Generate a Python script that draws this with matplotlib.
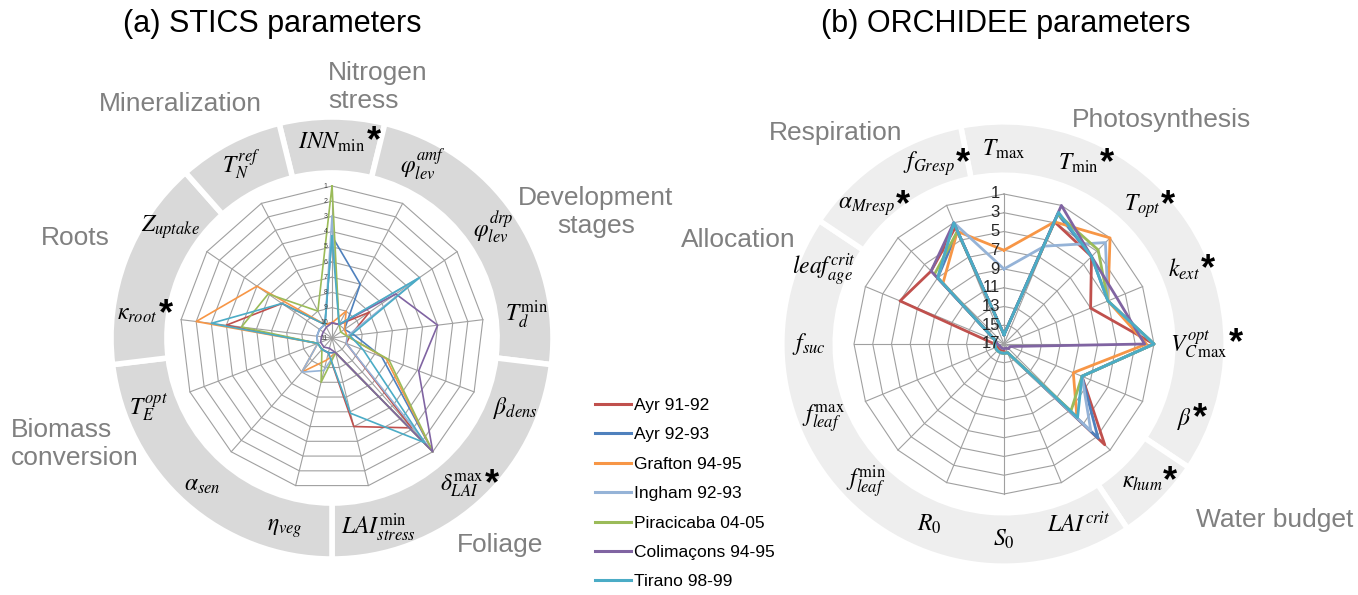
import numpy as np
import matplotlib
matplotlib.use('Agg')
import matplotlib.pyplot as plt
from matplotlib.lines import Line2D

plt.rcParams['font.family'] = ['Liberation Sans', 'DejaVu Sans']
plt.rcParams['mathtext.fontset'] = 'stix'

# sites and colours
sites = ['Ayr 91-92', 'Ayr 92-93', 'Grafton 94-95', 'Ingham 92-93',
         'Piracicaba 04-05', 'Colimaçons 94-95', 'Tirano 98-99']
colors = ['#C0504D', '#4F81BD', '#F79646', '#95B3D7', '#9BBB59', '#8064A2', '#4BACC6']

# ---- (a) STICS ----
stics_params = [r'$INN_{\mathrm{min}}$', r'$\varphi_{lev}^{amf}$', r'$\varphi_{lev}^{drp}$',
                r'$T_d^{\mathrm{min}}$', r'$\beta_{dens}$', r'$\delta_{LAI}^{\mathrm{max}}$',
                r'$LAI_{stress}^{\mathrm{min}}$', r'$\eta_{veg}$', r'$\alpha_{sen}$',
                r'$T_E^{opt}$', r'$\kappa_{root}$', r'$Z_{uptake}$', r'$T_N^{ref}$']
stics_star = [1, 0, 0, 0, 0, 1, 0, 0, 0, 0, 1, 0, 0]
stics_groups = ['Nitrogen\nstress', 'Development\nstages', 'Foliage',
                'Biomass\nconversion', 'Roots', 'Mineralization']
stics_group_size = [1, 3, 3, 3, 2, 1]
stics_ticks = list(range(1, 12))

# rank of each parameter per site (1 = most sensitive, outer ring)
stics_ayr91 = [10, 10, 8, 9.8, 10, 3.1, 5, 10, 10, 10, 4, 7, 10]
stics_ayr92 = [4.3, 7, 10, 9.5, 7.5, 1, 10, 10, 10, 10, 10, 10, 10]
stics_grafton = [10, 9, 10, 10, 7.2, 1, 10, 9.5, 8, 10, 2, 5, 10]
stics_ingham = [3, 10, 4, 10, 10, 1, 10, 8.8, 8, 10, 10, 10, 10]
stics_piracicaba = [1, 10, 10.3, 10, 7, 1, 10, 8, 10, 10, 5, 5.9, 9]
stics_colimacons = [10, 10, 5.9, 4, 4.9, 1, 10, 10.3, 10.2, 10.2, 10.3, 10.3, 10.2]
stics_tirano = [4.3, 10, 4, 9.8, 8.8, 1.8, 5.9, 10, 10, 10, 3, 7, 10]

# ---- (b) ORCHIDEE ----
orc_params = [r'$T_{\mathrm{max}}$', r'$T_{\mathrm{min}}$', r'$T_{opt}$', r'$k_{ext}$',
              r'$V_{C\,\mathrm{max}}^{opt}$', r'$\beta$', r'$\kappa_{hum}$', r'$LAI^{crit}$',
              r'$S_0$', r'$R_0$', r'$f_{leaf}^{\mathrm{min}}$', r'$f_{leaf}^{\mathrm{max}}$',
              r'$f_{suc}$', r'$leaf_{age}^{crit}$', r'$\alpha_{Mresp}$', r'$f_{Gresp}$']
orc_star = [0, 1, 1, 1, 1, 1, 1, 0, 0, 0, 0, 0, 0, 0, 1, 1]
orc_groups = ['Photosynthesis', 'Water budget', 'Allocation', 'Respiration']
orc_group_size = [6, 1, 7, 2]
orc_ticks = list(range(1, 18, 2))

orc_ayr91 = [16, 2.9, 3.8, 7, 1, 8, 1.8, 16, 16.2, 16.2, 16.2, 16.2, 16, 5, 6, 3.5]
orc_ayr92 = [16, 2, 3.8, 5, 1, 8, 2.8, 16, 16, 16, 16, 16, 16, 16, 7, 4]
orc_grafton = [7, 2.9, 1, 5, 1.8, 9, 6, 16, 16, 16, 16, 16, 16, 16, 7.8, 4]
orc_ingham = [9, 5.7, 1.7, 5, 1, 8, 3.9, 16, 16, 16, 16, 16, 16, 16, 7, 3]
orc_piracicaba = [16, 2, 2.8, 5, 1, 8, 6.9, 16, 16, 16, 16, 16, 16, 16, 6.5, 4]
orc_colimacons = [16, 1, 3.8, 4, 2, 16.3, 16.3, 16.5, 16.5, 16.5, 16.5, 16.5, 16.3, 16, 6, 3]
orc_tirano = [16, 1.8, 3.8, 5, 1, 8, 5.9, 16, 16, 16, 16, 16, 16, 16, 7, 3]

stics_series = [stics_ayr91, stics_ayr92, stics_grafton, stics_ingham,
                stics_piracicaba, stics_colimacons, stics_tirano]
orc_series = [orc_ayr91, orc_ayr92, orc_grafton, orc_ingham,
              orc_piracicaba, orc_colimacons, orc_tirano]

W, H = 1358, 595
fig = plt.figure(figsize=(W / 100, H / 100), dpi=100)
renderer = fig.canvas.get_renderer()


def radar(cx, cy, px_unit, vmax, params, stars, group_size, series, ticks,
          ring_in, ring_out, ring_color, lw, tick_size, tick_color, label_r):
    rlim = ring_out + 0.2
    R = rlim * px_unit
    ax = fig.add_axes([(cx - R) / W, (H - cy - R) / H, 2 * R / W, 2 * R / H],
                      projection='polar')
    ax.set_theta_zero_location('N')
    ax.set_theta_direction(-1)
    ax.set_ylim(0, rlim)
    ax.set_xticks([])
    ax.set_yticks([])
    ax.grid(False)
    ax.spines['polar'].set_visible(False)
    ax.patch.set_visible(False)

    n = len(params)
    step = 2 * np.pi / n
    theta = np.arange(n) * step
    closed = np.append(theta, theta[0])

    # grey group sectors
    start = 0
    for size in group_size:
        mid = theta[start] + (size - 1) / 2 * step
        ax.bar(mid, ring_out - ring_in, width=size * step, bottom=ring_in,
               color=ring_color, edgecolor='white', linewidth=4, zorder=0)
        start += size

    # polygon grid
    for t in ticks[:-1]:
        ax.plot(closed, [vmax - t] * (n + 1), color='#a0a0a0', lw=0.8, zorder=1)
    for t in theta:
        ax.plot([t, t], [0, vmax - 1], color='#a0a0a0', lw=0.8, zorder=1)
    for t in ticks:
        ax.annotate(str(t), xy=(0, vmax - t), xytext=(-3, 0), textcoords='offset points',
                    ha='right', va='center', fontsize=tick_size, color=tick_color, zorder=3)

    for vals, c in zip(series, colors):
        r = vmax - np.array(vals)
        ax.plot(closed, np.append(r, r[0]), color=c, lw=lw, zorder=2)

    for i, p in enumerate(params):
        txt = ax.text(theta[i], label_r, p, ha='center', va='center', fontsize=17, zorder=3)
        if stars[i]:
            bb = txt.get_window_extent(renderer)
            fig.text((bb.x1 + 1) / W, (bb.y0 + bb.y1) / 2 / H, '*', ha='left', va='center',
                     fontsize=26, fontweight='bold')
    return ax


radar(332, 338, 15.2, 11, stics_params, stics_star, stics_group_size, stics_series,
      stics_ticks, 10.86, 14.54, '#d9d9d9', 1.2, 5, '#404040', 12.9)
radar(1004, 344, 9.375, 17, orc_params, orc_star, orc_group_size, orc_series,
      orc_ticks, 18.0, 23.7, '#eeeeee', 2.0, 12, '#262626', 20.8)

# titles and category labels
fig.text(272 / W, 1 - 24 / H, '(a) STICS parameters', fontsize=22, ha='center', va='center')
fig.text(1006 / W, 1 - 24 / H, '(b) ORCHIDEE parameters', fontsize=22, ha='center', va='center')

stics_group_pos = [(378, 87), (596, 212), (500, 545), (75, 444), (75, 238), (180, 104)]
orc_group_pos = [(1162, 120), (1275, 520), (738, 240), (836, 133)]
for name, (x, y) in zip(stics_groups + orc_groups, stics_group_pos + orc_group_pos):
    fig.text(x / W, 1 - y / H, name, fontsize=19, color='#808080',
             ha='center', va='center', ma='center' if name.startswith('Dev') else 'left')

handles = [Line2D([], [], color=c, lw=2.2) for c in colors]
fig.legend(handles, sites, loc='upper left', bbox_to_anchor=(588 / W, 1 - 391 / H),
           frameon=False, fontsize=12.5, handlelength=2.1, handletextpad=0.15,
           labelspacing=0.82, borderaxespad=0)

fig.savefig('out.png', dpi=100)
